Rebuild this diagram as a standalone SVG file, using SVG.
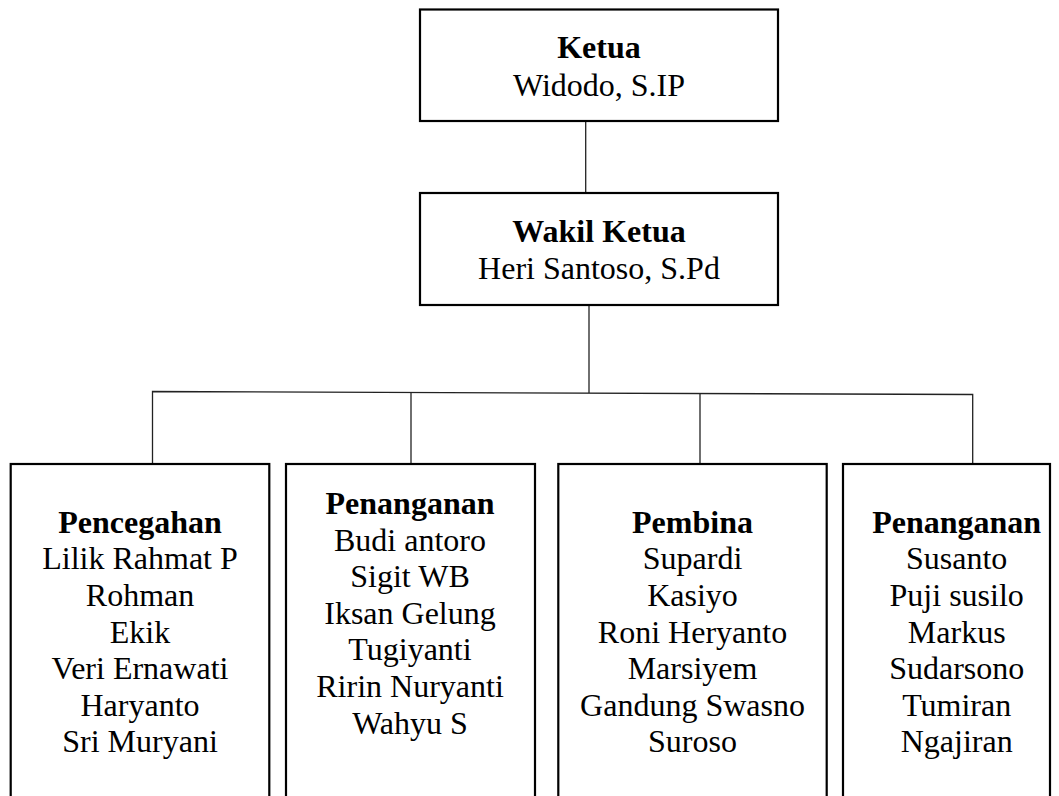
<svg xmlns="http://www.w3.org/2000/svg" width="1059" height="796" viewBox="0 0 1059 796">
<style>
.box{fill:#fff;stroke:#000;stroke-width:2.2}
.ln{stroke:#222;stroke-width:1.3;fill:none}
text{font-family:"Liberation Serif","Times New Roman",serif;font-size:32px;fill:#000;text-anchor:middle}
.b{font-weight:bold}
</style>
<rect width="1059" height="796" fill="#fff"/>
<g id="connectors">
<line class="ln" x1="585.7" y1="121" x2="585.7" y2="193"/>
<line class="ln" x1="589" y1="305" x2="589" y2="393"/>
<polyline class="ln" points="152.5,464 152.5,391.5 972.7,394.5 972.7,464"/>
<line class="ln" x1="411" y1="392.5" x2="411" y2="464"/>
<line class="ln" x1="700" y1="393.8" x2="700" y2="464"/>
</g>
<g id="ketua">
<rect class="box" x="420" y="9.5" width="358" height="111.5"/>
<text x="599" y="58.3" class="b">Ketua</text>
<text x="599" y="96">Widodo, S.IP</text>
</g>
<g id="wakil">
<rect class="box" x="420" y="193" width="358" height="112"/>
<text x="599" y="241.7" class="b">Wakil Ketua</text>
<text x="599" y="279.3">Heri Santoso, S.Pd</text>
</g>
<g id="pencegahan">
<rect class="box" x="10.7" y="464" width="258.6" height="340"/>
<text x="140" y="532.8" class="b">Pencegahan</text>
<text x="140" y="569.3">Lilik Rahmat P</text>
<text x="140" y="606">Rohman</text>
<text x="140" y="642.7">Ekik</text>
<text x="140" y="679">Veri Ernawati</text>
<text x="140" y="715.5">Haryanto</text>
<text x="140" y="752">Sri Muryani</text>
</g>
<g id="penanganan1">
<rect class="box" x="286" y="464" width="249" height="340"/>
<text x="410" y="514" class="b">Penanganan</text>
<text x="410" y="550.7">Budi antoro</text>
<text x="410" y="587">Sigit WB</text>
<text x="410" y="623.7">Iksan Gelung</text>
<text x="410" y="660.3">Tugiyanti</text>
<text x="410" y="697">Ririn Nuryanti</text>
<text x="410" y="733.5">Wahyu S</text>
</g>
<g id="pembina">
<rect class="box" x="558.3" y="464" width="268.4" height="340"/>
<text x="692.5" y="532.8" class="b">Pembina</text>
<text x="692.5" y="569.3">Supardi</text>
<text x="692.5" y="606">Kasiyo</text>
<text x="692.5" y="642.7">Roni Heryanto</text>
<text x="692.5" y="679">Marsiyem</text>
<text x="692.5" y="715.5">Gandung Swasno</text>
<text x="692.5" y="752">Suroso</text>
</g>
<g id="penanganan2">
<rect class="box" x="843" y="464" width="207" height="340"/>
<text x="956.7" y="532.8" class="b">Penanganan</text>
<text x="956.7" y="569.3">Susanto</text>
<text x="956.7" y="606">Puji susilo</text>
<text x="956.7" y="642.7">Markus</text>
<text x="956.7" y="679">Sudarsono</text>
<text x="956.7" y="715.5">Tumiran</text>
<text x="956.7" y="752">Ngajiran</text>
</g>
</svg>
